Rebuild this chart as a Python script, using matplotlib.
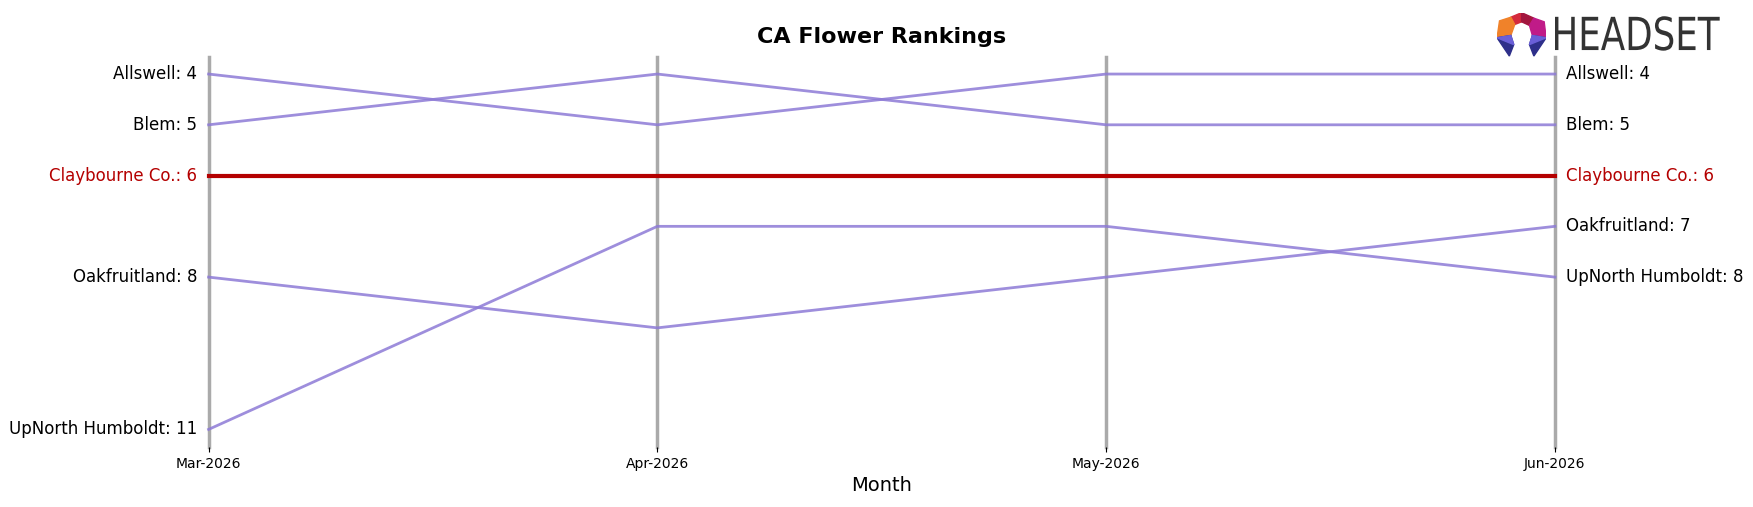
import numpy as np
import matplotlib.pyplot as plt
from matplotlib.textpath import TextPath
from matplotlib.patches import PathPatch, Polygon
from matplotlib.font_manager import FontProperties
from matplotlib.transforms import Affine2D

# months and rankings
months = ['Mar-2026', 'Apr-2026', 'May-2026', 'Jun-2026']
brands = ['Allswell', 'Blem', 'Claybourne Co.', 'Oakfruitland', 'UpNorth Humboldt']
ranks = {
    'Allswell': [4, 5, 4, 4],
    'Blem': [5, 4, 5, 5],
    'Claybourne Co.': [6, 6, 6, 6],
    'Oakfruitland': [8, 9, 8, 7],
    'UpNorth Humboldt': [11, 7, 7, 8],
}
highlight = 'Claybourne Co.'

fig = plt.figure(figsize=(17.53, 5.07), dpi=100)
ax = fig.add_axes([0.119, 0.118, 0.768, 0.770])

x = np.arange(len(months))
for i in x:
    ax.axvline(i, color='#aaaaaa', lw=2.5, zorder=1, clip_on=False)

for b in brands:
    if b == highlight:
        ax.plot(x, ranks[b], color='#b40000', lw=3, zorder=3, clip_on=False)
    else:
        ax.plot(x, ranks[b], color='#8d7ad6', alpha=0.85, lw=2, zorder=2, clip_on=False)

# labels on both sides
for b in brands:
    c = '#b40000' if b == highlight else 'black'
    ax.text(-0.025, ranks[b][0], f'{b}: {ranks[b][0]}', ha='right', va='center',
            fontsize=12, color=c)
    ax.text(x[-1] + 0.025, ranks[b][-1], f'{b}: {ranks[b][-1]}', ha='left', va='center',
            fontsize=12, color=c)

ax.set_xlim(0, 3)
ax.set_ylim(11.35, 3.66)
ax.set_xticks(x)
ax.set_xticklabels(months, fontsize=10)
ax.set_yticks([])
for s in ax.spines.values():
    s.set_visible(False)
ax.set_xlabel('Month', fontsize=14)
ax.set_title('CA Flower Rankings', fontsize=16, fontweight='bold', pad=10)

# logo
lax = fig.add_axes([0.854, 0.885, 0.028, 0.09])
lax.set_xlim(0, 1)
lax.set_ylim(0, 1)
lax.axis('off')
pieces = [
    ([(0.28, 0.9), (0.5, 1.0), (0.5, 0.8), (0.36, 0.74)], '#d42a3c'),
    ([(0.5, 1.0), (0.75, 0.88), (0.66, 0.72), (0.5, 0.8)], '#a3163e'),
    ([(0.05, 0.82), (0.28, 0.9), (0.36, 0.74), (0.28, 0.5), (0.0, 0.45)], '#f0822a'),
    ([(0.75, 0.88), (0.96, 0.8), (1.0, 0.45), (0.72, 0.5), (0.66, 0.72)], '#c01b88'),
    ([(0.0, 0.45), (0.28, 0.5), (0.34, 0.3), (0.25, 0.05)], '#2e2f8a'),
    ([(0.0, 0.45), (0.28, 0.5), (0.34, 0.3)], '#6a5fd8'),
    ([(1.0, 0.45), (0.72, 0.5), (0.66, 0.3), (0.75, 0.05)], '#2e2f8a'),
    ([(1.0, 0.45), (0.72, 0.5), (0.66, 0.3)], '#6a5fd8'),
]
for pts, col in pieces:
    lax.add_patch(Polygon(pts, closed=True, color=col))

tax = fig.add_axes([0.887, 0.9, 0.094, 0.068])
tax.axis('off')
tp = TextPath((0, 0), 'HEADSET', size=1, prop=FontProperties(family='DejaVu Sans'))
bb = tp.get_extents()
tr = Affine2D().translate(-bb.x0, -bb.y0).scale(1 / bb.width, 1 / bb.height)
tax.add_patch(PathPatch(tr.transform_path(tp), color='#333333', lw=0))
tax.set_xlim(0, 1)
tax.set_ylim(0, 1)

plt.savefig('out.png')
